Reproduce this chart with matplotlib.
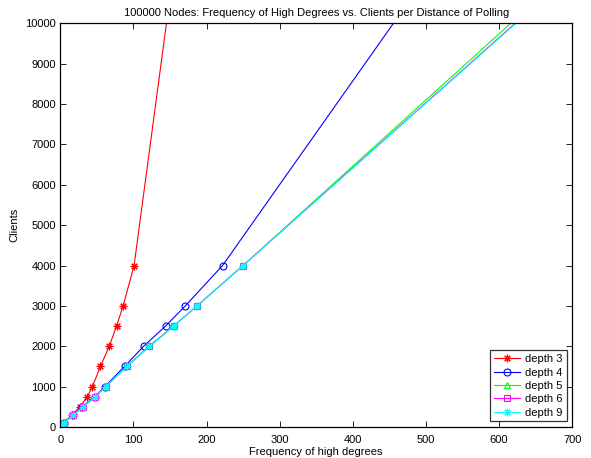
import matplotlib
matplotlib.use("Agg")
import matplotlib.pyplot as plt

plt.rcParams['font.family'] = ['Liberation Sans', 'DejaVu Sans']

# clients per distance of polling (last point lies above the visible range)
clients = [50, 100, 300, 500, 750, 1000, 1500, 2000, 2500, 3000, 4000, 20000]

# frequency of high degrees, one list per polling depth
depth3 = [2, 5, 16, 27, 37, 44, 55, 67, 77, 86, 101, 219]
depth4 = [2, 5, 17, 30, 47, 61, 88, 114, 144, 171, 222, 845]
depth5 = [2, 5, 18, 31, 48, 62, 91, 121, 155, 187, 250, 1226]
depth6 = [2, 5, 18, 31, 48, 62, 91, 122, 155, 187, 250, 1242]
depth9 = [2, 5, 18, 31, 48, 62, 91, 122, 155, 187, 250, 1245]

labels = ["depth 3", "depth 4", "depth 5", "depth 6", "depth 9"]

x_ticks = [0, 100, 200, 300, 400, 500, 600, 700]
y_ticks = [0, 1000, 2000, 3000, 4000, 5000, 6000, 7000, 8000, 9000, 10000]

fig = plt.figure(figsize=(5.91, 4.58), dpi=100)
ax = fig.add_axes([0.1019, 0.0677, 0.8663, 0.8815])

asterisk = (8, 2, 0)
styles = [
    ((1, 0, 0), asterisk, 5.5),
    ((0, 0, 1), 'o', 5),
    ((0, 1, 0), '^', 5),
    ((1, 0, 1), 's', 4.5),
    ((0, 1, 1), asterisk, 5.5),
]
series = [depth3, depth4, depth5, depth6, depth9]

for data, (col, mk, ms), lab in zip(series, styles, labels):
    ax.plot(data, clients, color=col, marker=mk, markersize=ms,
            markerfacecolor='none', markeredgecolor=col, markeredgewidth=0.8,
            linewidth=0.8, label=lab)

ax.set_xlim(0, 700)
ax.set_ylim(0, 10000)
ax.set_xticks(x_ticks)
ax.set_yticks(y_ticks)
ax.tick_params(direction='in', top=True, right=True, labelsize=8, length=4, width=0.6)
ax.tick_params(axis='x', pad=6)
ax.tick_params(axis='y', pad=3)
for sp in ax.spines.values():
    sp.set_linewidth(0.9)

ax.set_title("100000 Nodes: Frequency of High Degrees vs. Clients per Distance of Polling",
             fontsize=8, pad=5)
ax.set_xlabel("Frequency of high degrees", fontsize=8, labelpad=1)
ax.set_ylabel("Clients", fontsize=8, labelpad=4)

leg = ax.legend(loc='lower right', fontsize=8, frameon=True, fancybox=False,
                borderaxespad=0.5, handlelength=2.3, labelspacing=0.3,
                borderpad=0.35, handletextpad=0.5)
leg.get_frame().set_edgecolor('black')
leg.get_frame().set_linewidth(0.9)

fig.savefig("out.png", dpi=100)
